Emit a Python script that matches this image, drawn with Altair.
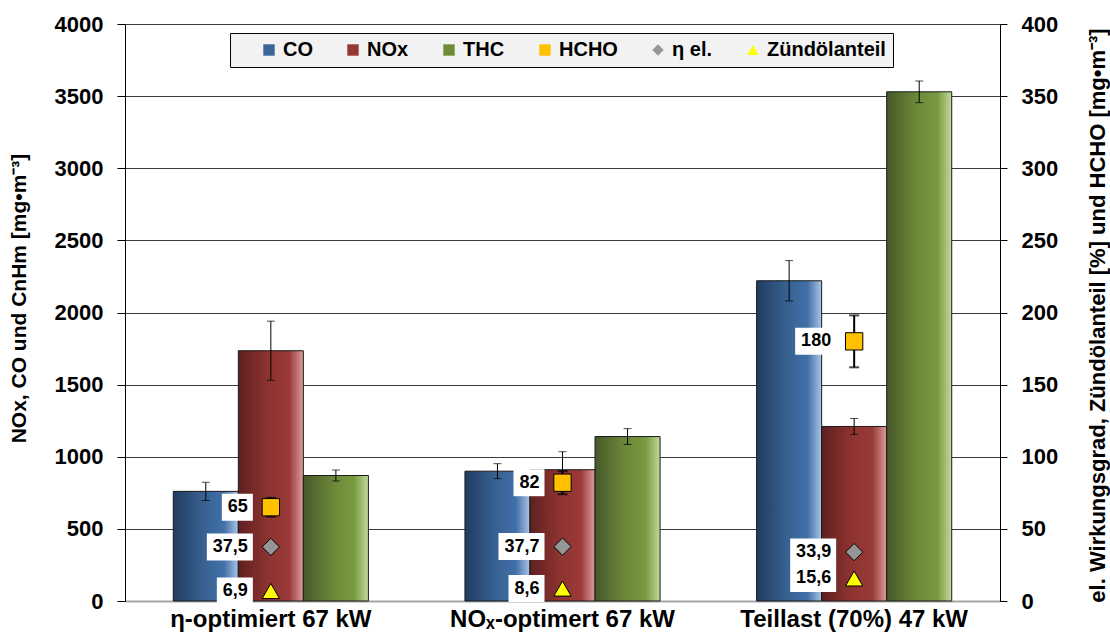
import altair as alt
import pandas as pd

# Operating points (x categories)
groups = ["η-optimiert 67 kW", "NOₓ-optimert 67 kW", "Teillast (70%) 47 kW"]
bar_series = ["CO", "NOx", "THC"]

# Emissions on the left axis [mg/m³] with their deviations
co = [760, 900, 2220]
co_err = [63, 52, 140]
nox = [1735, 910, 1210]
nox_err = [205, 125, 55]
thc = [870, 1140, 3530]
thc_err = [38, 55, 75]

# Values on the right axis
hcho = [65, 82, 180]
hcho_err = [6.5, 8, 18]
eta_el = [37.5, 37.7, 33.9]
zuend = [6.9, 8.6, 15.6]

legend_names = ["CO", "NOx", "THC", "HCHO", "η el.", "Zündölanteil"]
legend_colors = ["#3a6598", "#953735", "#6e8c36", "#ffc000", "#969696", "#ffff00"]
legend_shapes = ["square", "square", "square", "square", "diamond", "triangle-up"]

FONT = "Liberation Sans"

# ---- long tables -------------------------------------------------------
bar_rows = []
for s, vals, errs in zip(bar_series, [co, nox, thc], [co_err, nox_err, thc_err]):
    for g, v, e in zip(groups, vals, errs):
        bar_rows.append({"group": g, "series": s, "value": v, "lo": v - e, "hi": v + e})
bars_df = pd.DataFrame(bar_rows)


def de_num(v):
    return f"{v:g}".replace(".", ",")


def label_box(text):
    # white box left of the marker, sized from the label's character count
    w = 10 * sum(c.isdigit() for c in text) + 5 * text.count(",") + 11
    left = -(18 + w) / 10
    return f"M{left:.2f},-1.35H-1.8V1.35H{left:.2f}Z"


mark_rows = []
for name, vals in [("HCHO", hcho), ("η el.", eta_el), ("Zündölanteil", zuend)]:
    for g, v in zip(groups, vals):
        lab = de_num(v)
        mark_rows.append({"group": g, "series": name, "value": v, "slot": "NOx",
                          "label": lab, "box": label_box(lab)})
marks_df = pd.DataFrame(mark_rows)

hcho_df = pd.DataFrame({"group": groups, "value": hcho, "slot": "NOx",
                        "lo": [v - e for v, e in zip(hcho, hcho_err)],
                        "hi": [v + e for v, e in zip(hcho, hcho_err)]})

# ---- shared encodings ----------------------------------------------------
x_enc = alt.X("group:N", sort=groups,
              scale=alt.Scale(paddingInner=0.331, paddingOuter=0.1655),
              axis=alt.Axis(title=None, labelAngle=0, ticks=False, domainColor="#a6a6a6",
                            domainWidth=2, labelFont=FONT, labelFontSize=24,
                            labelFontWeight="bold", labelColor="black",
                            labelPadding=6, labelLimit=0))
xo_bars = alt.XOffset("series:N", scale=alt.Scale(domain=bar_series, paddingInner=0, paddingOuter=0))
xo_slot = alt.XOffset("slot:N", scale=alt.Scale(domain=bar_series, paddingInner=0, paddingOuter=0))

left_scale = alt.Scale(domain=[0, 4000], nice=False, zero=True)
left_axis = alt.Axis(title="NOx, CO und CnHm [mg•m⁻³]", values=list(range(0, 4001, 500)), format="d",
                     tickSize=8, tickColor="black", domainColor="black", labelPadding=14,
                     grid=True, gridColor="#3c3c3c",
                     labelFont=FONT, labelFontSize=22, labelFontWeight="bold", labelColor="black",
                     titleFontSize=21, titleAngle=270, titleX=-106, titleY=274,
                     titleAlign="center", titleBaseline="middle")
right_scale = alt.Scale(domain=[0, 400], nice=False, zero=True)
right_axis = alt.Axis(title="el. Wirkungsgrad, Zündölanteil [%] und HCHO [mg•m⁻³]", orient="right",
                      values=list(range(0, 401, 50)), format="d", tickSize=7, tickColor="black",
                      domainColor="black", labelPadding=14, grid=False,
                      labelFont=FONT, labelFontSize=22, labelFontWeight="bold", labelColor="black",
                      titleFontSize=22, titleAngle=270, titleX=97, titleY=291,
                      titleAlign="center", titleBaseline="middle")

gradients = {
    "CO": [("#213b60", 0), ("#36608f", 0.45), ("#4170a8", 0.78), ("#aac4e6", 1)],
    "NOx": [("#5f2020", 0), ("#8d3331", 0.45), ("#993a38", 0.78), ("#dd9c9c", 1)],
    "THC": [("#46582a", 0), ("#6b8838", 0.45), ("#789a3f", 0.78), ("#c4da9c", 1)],
}

bar_layers = []
for s in bar_series:
    grad = alt.Gradient(gradient="linear", x1=0, x2=1, y1=0, y2=0,
                        stops=[alt.GradientStop(color=c, offset=o) for c, o in gradients[s]])
    bar_layers.append(
        alt.Chart(bars_df).transform_filter(alt.datum.series == s)
        .mark_bar(color=grad, stroke="#1a1a1a", strokeWidth=1)
        .encode(x=x_enc, xOffset=xo_bars,
                y=alt.Y("value:Q", scale=left_scale, axis=left_axis))
    )

err_base = alt.Chart(bars_df).encode(x=x_enc, xOffset=xo_bars)
err_rule = err_base.mark_rule(color="black", strokeWidth=1).encode(
    y=alt.Y("lo:Q", scale=left_scale, axis=left_axis), y2="hi:Q")
err_hi = err_base.mark_tick(color="black", size=8, thickness=1, orient="horizontal").encode(
    y=alt.Y("hi:Q", scale=left_scale, axis=left_axis))
err_lo = err_base.mark_tick(color="black", size=8, thickness=1, orient="horizontal").encode(
    y=alt.Y("lo:Q", scale=left_scale, axis=left_axis))

left = alt.layer(*bar_layers, err_rule, err_hi, err_lo)

# ---- right-axis markers ---------------------------------------------------
hb = alt.Chart(hcho_df).encode(x=x_enc, xOffset=xo_slot)
h_rule = hb.mark_rule(color="black", strokeWidth=2).encode(
    y=alt.Y("lo:Q", scale=right_scale, axis=right_axis), y2="hi:Q")
h_hi = hb.mark_tick(color="black", size=10, thickness=2, orient="horizontal").encode(
    y=alt.Y("hi:Q", scale=right_scale, axis=right_axis))
h_lo = hb.mark_tick(color="black", size=10, thickness=2, orient="horizontal").encode(
    y=alt.Y("lo:Q", scale=right_scale, axis=right_axis))

mb = alt.Chart(marks_df).encode(x=x_enc, xOffset=xo_slot,
                                y=alt.Y("value:Q", scale=right_scale, axis=right_axis))
boxes = mb.mark_point(filled=True, fill="white", strokeWidth=0, size=400, opacity=1).encode(
    shape=alt.Shape("box:N", scale=None, legend=None))
texts = mb.mark_text(align="right", baseline="middle", dx=-23, font=FONT, fontSize=18,
                     fontWeight="bold", color="black").encode(text="label:N")

leg = alt.Legend(title=" ", titleOrient="left", titlePadding=22, titleFontSize=8,
                 orient="none", legendX=105, legendY=9, direction="horizontal",
                 fillColor="#f2f2f2", strokeColor="black", padding=7,
                 labelFont=FONT, labelFontSize=20, labelFontWeight="bold", labelColor="black",
                 labelLimit=0, labelOffset=4, columnPadding=30, symbolSize=130,
                 symbolStrokeColor="black", symbolStrokeWidth=1, symbolOpacity=1)
markers = mb.mark_point(filled=True, size=300, stroke="black", strokeWidth=1, opacity=1).encode(
    color=alt.Color("series:N", scale=alt.Scale(domain=legend_names, range=legend_colors), legend=leg),
    shape=alt.Shape("series:N", scale=alt.Scale(domain=legend_names, range=legend_shapes), legend=leg),
)

right = alt.layer(h_rule, h_hi, h_lo, boxes, texts, markers).resolve_scale(
    shape="independent", color="independent")

chart = (
    alt.layer(left, right)
    .resolve_scale(y="independent")
    .properties(width=875, height=577,
                autosize=alt.AutoSizeParams(type="none"),
                padding={"left": 125, "top": 24, "right": 110, "bottom": 38})
    .configure_view(stroke=None)
    .configure_axis(titleFont=FONT, titleFontWeight="bold", titleColor="black")
    .configure(background="white")
)

chart.save("out.html", embed_options={"renderer": "svg", "actions": False})
